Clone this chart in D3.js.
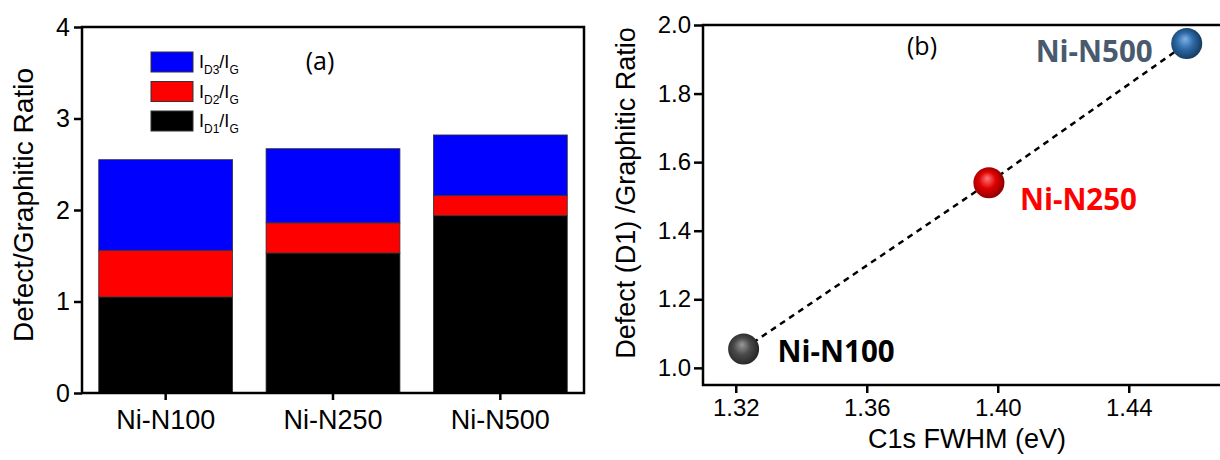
<!DOCTYPE html>
<html>
<head>
<meta charset="utf-8">
<script src="https://cdn.jsdelivr.net/npm/d3@7"></script>
<style>
  body { margin: 0; background: #fff; }
  svg text { font-family: "Liberation Sans", Arial, sans-serif; }
</style>
</head>
<body>
<svg width="1220" height="460"></svg>
<script>
// panel (a) data
const samples = ["Ni-N100", "Ni-N250", "Ni-N500"];
const id1 = [1.05, 1.53, 1.94];
const id2 = [0.51, 0.33, 0.22];
const id3 = [0.99, 0.81, 0.66];
const barTicks = [0, 1, 2, 3, 4];

// panel (b) data
const fwhm = [1.3224, 1.3973, 1.4577];
const d1Ratio = [1.055, 1.54, 1.946];
const xTicksB = [1.32, 1.36, 1.40, 1.44];
const yTicksB = [1.0, 1.2, 1.4, 1.6, 1.8, 2.0];

const svg = d3.select("svg");

// ---------- panel (a): stacked bars ----------
function drawBars() {
    let left = 82, right = 584, top = 27, bottom = 393;
    let g = svg.append("g");

    let x = d3.scaleBand()
        .domain(samples)
        .range([left, right])
        .paddingInner(0.2)
        .paddingOuter(0.1);
    let y = d3.scaleLinear().domain([0, 4]).range([bottom, top]);

    let rows = samples.map((s, i) => ({ sample: s, d1: id1[i], d2: id2[i], d3: id3[i] }));
    let stack = d3.stack().keys(["d1", "d2", "d3"])(rows);
    let colors = { d1: "#000000", d2: "#ff0000", d3: "#0000ff" };

    g.selectAll("g.layer")
        .data(stack)
        .enter()
        .append("g")
        .attr("fill", d => colors[d.key])
        .selectAll("rect")
        .data(d => d)
        .enter()
        .append("rect")
        .attr("x", d => x(d.data.sample))
        .attr("y", d => y(d[1]))
        .attr("width", x.bandwidth())
        .attr("height", d => y(d[0]) - y(d[1]))
        .attr("stroke", "#333")
        .attr("stroke-width", 0.8);

    // frame
    g.append("rect")
        .attr("x", left).attr("y", top)
        .attr("width", right - left).attr("height", bottom - top)
        .attr("fill", "none").attr("stroke", "#000").attr("stroke-width", 2.5);

    let yAxis = g.append("g")
        .attr("transform", `translate(${left},0)`)
        .call(d3.axisLeft(y).tickValues(barTicks).tickFormat(d3.format("d")).tickSizeOuter(0).tickSize(8).tickPadding(4));
    let xAxis = g.append("g")
        .attr("transform", `translate(0,${bottom})`)
        .call(d3.axisBottom(x).tickSizeOuter(0).tickSize(7).tickPadding(10));
    [yAxis, xAxis].forEach(a => {
        a.select(".domain").remove();
        a.selectAll("line").attr("stroke", "#000").attr("stroke-width", 2.5);
        a.selectAll("text").attr("fill", "#000")
            .style("font-family", "Liberation Sans, Arial, sans-serif");
    });
    yAxis.selectAll("text").style("font-size", "25px");
    xAxis.selectAll("text").style("font-size", "27px");

    g.append("text")
        .attr("transform", "translate(26,205) rotate(-90)")
        .attr("text-anchor", "middle")
        .attr("dominant-baseline", "middle")
        .style("font-size", "28px")
        .text("Defect/Graphitic Ratio");

    g.append("text")
        .attr("x", 320).attr("y", 70)
        .attr("text-anchor", "middle")
        .style("font-family", "Open Sans, sans-serif")
        .style("font-size", "25px")
        .text("(a)");

    // legend
    let legend = [
        { key: "d3", sub: "D3" },
        { key: "d2", sub: "D2" },
        { key: "d1", sub: "D1" }
    ];
    let lg = g.append("g").selectAll("g")
        .data(legend)
        .enter()
        .append("g")
        .attr("transform", (d, i) => `translate(151,${52 + i * 29.5})`);
    lg.append("rect")
        .attr("width", 42).attr("height", 20)
        .attr("fill", d => colors[d.key])
        .attr("stroke", "#333").attr("stroke-width", 1);
    let lt = lg.append("text")
        .attr("x", 48).attr("y", 16)
        .style("font-size", "18px");
    lt.append("tspan").text("I");
    lt.append("tspan").attr("dy", 6).style("font-size", "12px").text(d => d.sub);
    lt.append("tspan").attr("dy", -6).text("/I");
    lt.append("tspan").attr("dy", 6).style("font-size", "12px").text("G");
}

// ---------- panel (b): scatter with dashed line ----------
function drawScatter() {
    let left = 703, right = 1227, top = 25, bottom = 385;
    let g = svg.append("g");

    let x = d3.scaleLinear().domain([1.31, 1.47]).range([left, right]);
    let y = d3.scaleLinear().domain([0.95, 2.0]).range([bottom, top]);

    g.append("rect")
        .attr("x", left).attr("y", top)
        .attr("width", right - left).attr("height", bottom - top)
        .attr("fill", "none").attr("stroke", "#000").attr("stroke-width", 2.5);

    let yAxis = g.append("g")
        .attr("transform", `translate(${left},0)`)
        .call(d3.axisLeft(y).tickValues(yTicksB).tickFormat(d3.format(".1f")).tickSizeOuter(0).tickSize(9).tickPadding(3));
    let xAxis = g.append("g")
        .attr("transform", `translate(0,${bottom})`)
        .call(d3.axisBottom(x).tickValues(xTicksB).tickFormat(d3.format(".2f")).tickSizeOuter(0).tickSize(8).tickPadding(6));
    [yAxis, xAxis].forEach(a => {
        a.select(".domain").remove();
        a.selectAll("line").attr("stroke", "#000").attr("stroke-width", 2.5);
        a.selectAll("text").attr("fill", "#000")
            .style("font-family", "Liberation Sans, Arial, sans-serif")
            .style("font-size", "24px");
    });

    g.append("text")
        .attr("transform", "translate(628,193) rotate(-90)")
        .attr("text-anchor", "middle")
        .attr("dominant-baseline", "middle")
        .style("font-size", "27px")
        .text("Defect (D1) /Graphitic Ratio");

    g.append("text")
        .attr("x", 967).attr("y", 448)
        .attr("text-anchor", "middle")
        .style("font-size", "27px")
        .text("C1s FWHM (eV)");

    g.append("text")
        .attr("x", 922).attr("y", 55)
        .attr("text-anchor", "middle")
        .style("font-family", "Open Sans, sans-serif")
        .style("font-size", "25px")
        .text("(b)");

    let pts = fwhm.map((v, i) => ({ x: v, y: d1Ratio[i], name: samples[i] }));

    let line = d3.line().x(d => x(d.x)).y(d => y(d.y));
    g.append("path")
        .datum(pts)
        .attr("d", line)
        .attr("fill", "none")
        .attr("stroke", "#000")
        .attr("stroke-width", 2.5)
        .attr("stroke-dasharray", "6,5");

    // sphere gradients
    let defs = svg.append("defs");
    let ballColors = [
        { light: "#9a9a9a", mid: "#4a4a4a", dark: "#1e1e1e" },
        { light: "#ff7a7a", mid: "#e00000", dark: "#7a0000" },
        { light: "#7fb3e6", mid: "#2d6aa8", dark: "#10304f" }
    ];
    ballColors.forEach((c, i) => {
        let grad = defs.append("radialGradient")
            .attr("id", "ball" + i)
            .attr("cx", "0.45").attr("cy", "0.5").attr("r", "0.6")
            .attr("fx", "0.45").attr("fy", "0.35");
        grad.append("stop").attr("offset", "0%").attr("stop-color", c.light);
        grad.append("stop").attr("offset", "45%").attr("stop-color", c.mid);
        grad.append("stop").attr("offset", "100%").attr("stop-color", c.dark);
    });

    g.selectAll("circle.ball")
        .data(pts)
        .enter()
        .append("circle")
        .attr("class", "ball")
        .attr("cx", d => x(d.x))
        .attr("cy", d => y(d.y))
        .attr("r", 15.5)
        .attr("fill", (d, i) => `url(#ball${i})`);

    // point labels
    let labelPos = [
        { dx: 34, dy: 13, anchor: "start", color: "#000000" },
        { dx: 31, dy: 27, anchor: "start", color: "#ff0000" },
        { dx: -34, dy: 18, anchor: "end", color: "#4a5a6e" }
    ];
    g.selectAll("text.plabel")
        .data(pts)
        .enter()
        .append("text")
        .attr("class", "plabel")
        .attr("x", (d, i) => x(d.x) + labelPos[i].dx)
        .attr("y", (d, i) => y(d.y) + labelPos[i].dy)
        .attr("text-anchor", (d, i) => labelPos[i].anchor)
        .attr("fill", (d, i) => labelPos[i].color)
        .style("font-family", "Open Sans, sans-serif")
        .style("font-weight", "bold")
        .style("font-size", "29.5px")
        .text(d => d.name);
}

drawBars();
drawScatter();
</script>
</body>
</html>
